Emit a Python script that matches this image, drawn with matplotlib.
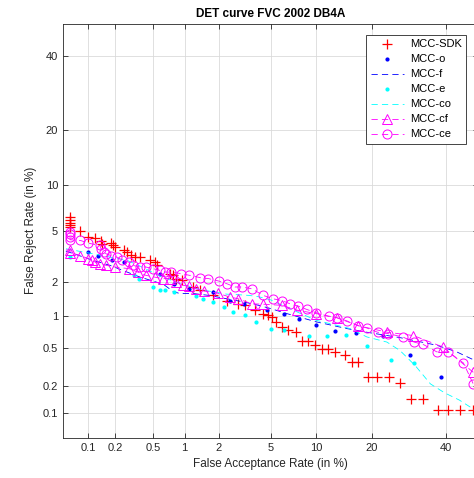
import matplotlib
matplotlib.use("Agg")
import matplotlib.pyplot as plt
import numpy as np
from statistics import NormalDist

plt.rcParams["font.family"] = ["Liberation Sans", "DejaVu Sans"]
plt.rcParams["lines.scale_dashes"] = False

# --- data (percent) ---
ticks = [0.1, 0.2, 0.5, 1, 2, 5, 10, 20, 40]
tick_labels = ["0.1", "0.2", "0.5", "1", "2", "5", "10", "20", "40"]

sdk_far = [0.061, 0.061, 0.061, 0.061, 0.061, 0.081, 0.1, 0.12, 0.14, 0.145,
           0.18, 0.19, 0.2, 0.25, 0.27, 0.30, 0.33, 0.37, 0.47, 0.52,
           0.54, 0.73, 0.78, 0.84, 0.94, 1.2, 1.38, 1.79, 2.32, 2.87,
           3.24, 3.85, 4.44, 4.8, 5.1, 5.5, 6.0, 6.6, 7.4, 8.1,
           8.9, 9.8, 10.8, 11.7, 12.9, 14.6, 15.9, 17.1, 19.2, 21.2,
           24.0, 26.8, 29.8, 33.1, 37.6, 40.6, 44.4, 48.4]
sdk_frr = [6.2, 5.9, 5.7, 5.5, 5.3, 4.95, 4.5, 4.4, 4.2, 4.0,
           4.05, 3.9, 3.8, 3.6, 3.47, 3.33, 3.2, 3.18, 3.0, 2.9,
           2.74, 2.35, 2.28, 2.14, 2.07, 1.82, 1.7, 1.54, 1.39, 1.30,
           1.26, 1.14, 1.06, 1.02, 0.99, 0.89, 0.80, 0.74, 0.71, 0.59,
           0.59, 0.53, 0.49, 0.49, 0.45, 0.42, 0.357, 0.357, 0.25, 0.25,
           0.25, 0.214, 0.143, 0.143, 0.107, 0.107, 0.107, 0.107]

o_far = [0.1, 0.13, 0.185, 0.25, 0.58, 0.8, 1.1, 1.79, 2.47, 3.18,
         4.7, 6.2, 7.8, 10.0, 12.9, 16.6, 22.5, 29.5, 38.4]
o_frr = [3.5, 3.27, 3.0, 2.91, 2.35, 1.94, 1.76, 1.65, 1.39, 1.3,
         1.14, 1.06, 0.94, 0.84, 0.73, 0.70, 0.66, 0.42, 0.25]

f_far = [0.03, 0.05, 0.114, 0.176, 0.27, 0.37, 0.54, 0.65, 0.78, 0.9,
         1.2, 1.66, 2.32, 3.18, 4.1, 5.0, 6.5, 10.0, 14.9, 18.9,
         26.8, 37.2, 43.3, 48.8, 52.0]
f_frr = [3.65, 3.6, 3.0, 2.74, 2.42, 2.2, 2.0, 1.88, 1.67, 1.6,
         1.6, 1.54, 1.44, 1.35, 1.26, 1.18, 1.06, 0.89, 0.77, 0.71,
         0.63, 0.53, 0.455, 0.375, 0.3]

e_far = [0.061, 0.32, 0.36, 0.5, 0.58, 0.65, 0.8, 1.28, 1.45, 1.79,
         2.2, 2.6, 3.25, 3.95, 5.0, 6.2, 9.0, 11.6, 14.8, 18.9,
         24.6, 30.7]
e_frr = [3.18, 2.28, 2.14, 1.82, 1.70, 1.70, 1.65, 1.53, 1.44, 1.36,
         1.22, 1.10, 1.02, 0.88, 0.77, 0.74, 0.66, 0.66, 0.67, 0.52,
         0.38, 0.35]

co_far = [0.03, 0.05, 0.114, 0.27, 0.37, 0.58, 0.9, 1.38, 2.32, 2.96,
          3.5, 4.1, 5.0, 6.4, 7.9, 10.0, 15.5, 18.9, 23.5, 26.8,
          30.9, 35.3, 39.6, 44.1, 48.8, 52.0]
co_frr = [3.75, 3.72, 3.37, 3.0, 2.7, 2.25, 1.95, 1.73, 1.58, 1.56,
          1.54, 1.5, 1.41, 1.22, 1.07, 0.92, 0.77, 0.64, 0.57, 0.47,
          0.33, 0.21, 0.167, 0.139, 0.108, 0.09]

cf_far = [0.03, 0.061, 0.061, 0.081, 0.1, 0.11, 0.12, 0.136, 0.16, 0.2, 0.28,
          0.35, 0.42, 0.52, 0.62, 0.73, 0.84, 0.97, 1.1, 1.26, 1.5,
          1.95, 2.47, 2.87, 3.64, 4.44, 6.0, 7.6, 10.0, 13.1, 17.1,
          23.6, 30.4, 39.0, 48.5, 52.0]
cf_frr = [3.65, 3.6, 3.45, 3.27, 3.09, 3.0, 2.91, 2.83, 2.74, 2.66, 2.58,
          2.42, 2.28, 2.2, 2.14, 2.14, 2.0, 1.88, 1.85, 1.76, 1.68,
          1.61, 1.49, 1.44, 1.30, 1.29, 1.26, 1.14, 1.06, 0.975, 0.82,
          0.71, 0.66, 0.51, 0.28, 0.2]

ce_far = [0.03, 0.061, 0.061, 0.061, 0.061, 0.081, 0.1, 0.136, 0.14, 0.15, 0.16,
          0.18, 0.21, 0.24, 0.28, 0.31, 0.37, 0.42, 0.5, 0.58, 0.66,
          0.75, 0.93, 1.1, 1.38, 1.63, 2.0, 2.32, 2.7, 3.05, 3.64,
          4.44, 5.2, 6.0, 6.8, 7.7, 8.7, 10.0, 11.8, 13.1, 14.9,
          17.1, 18.9, 21.3, 23.7, 27.5, 30.6, 33.2, 37.2, 40.7, 45.4,
          48.5, 51.0]
ce_frr = [5.0, 4.9, 4.7, 4.5, 4.3, 4.25, 4.06, 3.9, 3.68, 3.47, 3.37,
          3.27, 3.18, 3.0, 2.91, 2.74, 2.66, 2.66, 2.58, 2.5, 2.42,
          2.42, 2.35, 2.28, 2.18, 2.14, 2.04, 1.94, 1.82, 1.82, 1.76,
          1.54, 1.44, 1.39, 1.30, 1.24, 1.16, 1.08, 1.0, 0.975, 0.91,
          0.82, 0.78, 0.71, 0.69, 0.64, 0.57, 0.54, 0.455, 0.455, 0.35,
          0.21, 0.1]

# --- normal-deviate (probit) axis scale ---
_nd = NormalDist()
_ppf = np.vectorize(_nd.inv_cdf, otypes=[float])
_cdf = np.vectorize(_nd.cdf, otypes=[float])


def to_probit(pct):
    p = np.clip(np.asarray(pct, dtype=float) / 100.0, 1e-10, 1 - 1e-10)
    return _ppf(p)


def from_probit(z):
    return _cdf(np.asarray(z, dtype=float)) * 100.0


fig = plt.figure(figsize=(4.74, 4.78), dpi=100)
# axes run a bit past the right edge of the figure, as in the cropped original
ax = fig.add_axes([63 / 474, (478 - 437.7) / 478, 415 / 474, (437.7 - 23.8) / 478])
ax.set_xscale("function", functions=(to_probit, from_probit))
ax.set_yscale("function", functions=(to_probit, from_probit))

dash = (4.5, 3.0)
lw = 0.6
ax.plot(sdk_far, sdk_frr, ls="none", marker="+", color="red", ms=7.5, mew=0.9,
        label="MCC-SDK")
ax.plot(o_far, o_frr, ls="none", marker=".", color="blue", ms=4,
        label="MCC-o")
ax.plot(f_far, f_frr, ls="--", dashes=dash, color="blue", lw=lw, label="MCC-f")
ax.plot(e_far, e_frr, ls="none", marker=".", color="cyan", ms=4,
        label="MCC-e")
ax.plot(co_far, co_frr, ls="--", dashes=dash, color="cyan", lw=lw, label="MCC-co")
ax.plot(cf_far, cf_frr, ls="--", dashes=dash, color="magenta", lw=lw,
        marker="^", ms=6.5, mfc="none", mew=0.7, label="MCC-cf")
ax.plot(ce_far, ce_frr, ls="--", dashes=dash, color="magenta", lw=lw,
        marker="o", ms=6.5, mfc="none", mew=0.7, label="MCC-ce")

ax.set_xlim(0.05, 50)
ax.set_ylim(0.05, 50)
ax.set_xticks(ticks)
ax.set_xticklabels(tick_labels)
ax.set_yticks(ticks)
ax.set_yticklabels(tick_labels)
ax.xaxis.set_minor_locator(matplotlib.ticker.NullLocator())
ax.yaxis.set_minor_locator(matplotlib.ticker.NullLocator())

ax.grid(True, color="#dadada", lw=0.6)
ax.set_axisbelow(True)
ax.tick_params(direction="in", length=3.5, width=0.6, top=True, right=True,
               colors="#262626", labelsize=8)
for sp in ax.spines.values():
    sp.set_color("#262626")
    sp.set_linewidth(0.6)

ax.set_title("DET curve FVC 2002 DB4A", fontsize=8.5, fontweight="bold", pad=5)
ax.set_xlabel("False Acceptance Rate (in %)", fontsize=8.5, color="#262626")
ax.set_ylabel("False Reject Rate (in %)", fontsize=8.5, color="#262626")

leg = ax.legend(loc="upper right", bbox_to_anchor=(466 / 474, 1 - 35 / 478),
                bbox_transform=fig.transFigure, fontsize=8, numpoints=1,
                fancybox=False, framealpha=1, edgecolor="#262626",
                handlelength=3.0, handletextpad=0.5, borderpad=0.4,
                labelspacing=0.45, borderaxespad=0)
leg.get_frame().set_linewidth(0.6)

fig.savefig("out.png", dpi=100)
